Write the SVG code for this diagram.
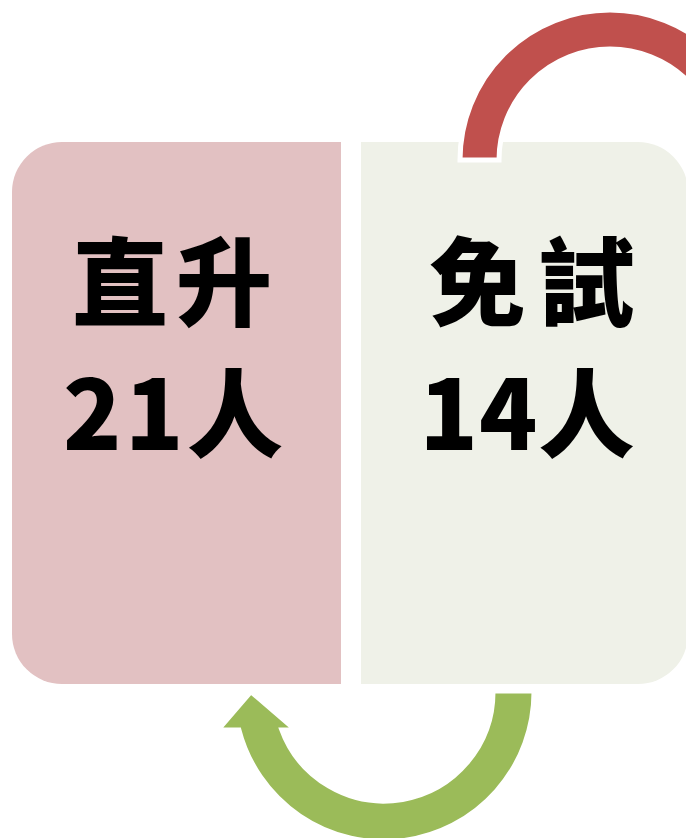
<svg xmlns="http://www.w3.org/2000/svg" width="686" height="838" viewBox="0 0 686 838">
  <style>
    .lbl { font-family: "Noto Sans CJK TC", "Noto Sans CJK SC", sans-serif; font-weight: 900; font-size: 96px; fill: #000; text-anchor: middle; }
  </style>
  <rect width="686" height="838" fill="#fff"/>
  <g id="node-left">
    <path d="M62,142 H341 V684 H62 A50,50 0 0 1 12,634 V192 A50,50 0 0 1 62,142 Z" fill="#E2C1C2"/>
    <text class="lbl" x="172" y="318" textLength="200" lengthAdjust="spacing">直升</text>
    <text class="lbl" x="173" y="450" textLength="220" lengthAdjust="spacing">21人</text>
  </g>
  <g id="node-right">
    <path d="M361,142 H638 A50,50 0 0 1 688,192 V634 A50,50 0 0 1 638,684 H361 Z" fill="#EFF1E8"/>
    <text class="lbl" x="532" y="318" textLength="205" lengthAdjust="spacing">免試</text>
    <text class="lbl" x="527" y="450" textLength="215" lengthAdjust="spacing">14人</text>
  </g>
  <g id="connectors">
    <path id="arc-red" d="M460,160 A150,150 0 0 1 760,160 L721,160 A111,111 0 0 0 499,160 Z" fill="#C0504D" stroke="#fff" stroke-width="5" stroke-linejoin="miter"/>
    <path id="arrow-green" d="M533,692 A149,149 0 0 1 239.7,729 L220,729 L251,693 L293,729 L280.4,729 A110,110 0 0 0 494,692 Z" fill="#9BBB59" stroke="#fff" stroke-width="3"/>
  </g>
</svg>
